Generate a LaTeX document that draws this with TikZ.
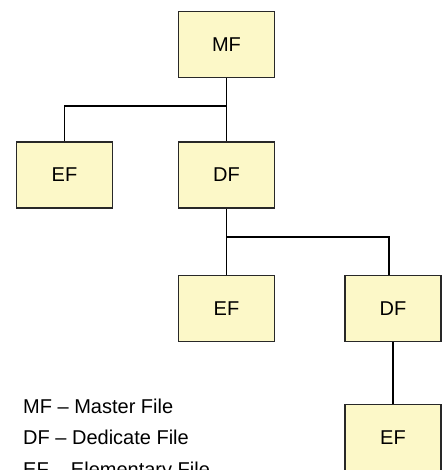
\documentclass[tikz,border=0pt]{standalone}
\usepackage{fontspec}
\setmainfont{Liberation Sans}
\definecolor{boxfill}{RGB}{252,248,200}
\definecolor{boxline}{RGB}{40,40,40}
\begin{document}
\begin{tikzpicture}[x=1pt,y=-1pt,
  file/.style={draw=boxline, line width=1.3pt, fill=boxfill,
    minimum width=96pt, minimum height=66pt, inner sep=0pt,
    font=\fontsize{20}{24}\selectfont},
  link/.style={draw=black, line width=1.1pt},
  legend/.style={anchor=base west, inner sep=0pt,
    font=\fontsize{20}{24}\selectfont}]
\useasboundingbox (0,0) rectangle (446,470);
\clip (0,0) rectangle (446,470);

% file hierarchy
\node[file] (mf)  at (226.5, 44.5) {MF};
\node[file] (ef1) at (64.5, 175)   {EF};
\node[file] (df1) at (226.5, 175)  {DF};
\node[file] (ef2) at (226.5, 308.5) {EF};
\node[file] (df2) at (393, 308.5)  {DF};
\node[file] (ef3) at (393, 437.5)  {EF};

% branch points
\coordinate (bus1) at (226.5, 106);
\coordinate (bus2) at (226.5, 237);

% connectors
\draw[link] (mf.south) -- (df1.north);
\draw[link] (bus1) -| (ef1.north);
\draw[link] (df1.south) -- (ef2.north);
\draw[link] (bus2) -| ([xshift=-4pt]df2.north);
\draw[link] (df2.south) -- (ef3.north);

% legend
\node[legend] (l1) at (23, 413.3) {MF -- Master File};
\node[legend] (l2) at (23, 444.5) {DF -- Dedicate File};
\node[legend] (l3) at (23, 476)   {EF -- Elementary File};
\end{tikzpicture}
\end{document}
